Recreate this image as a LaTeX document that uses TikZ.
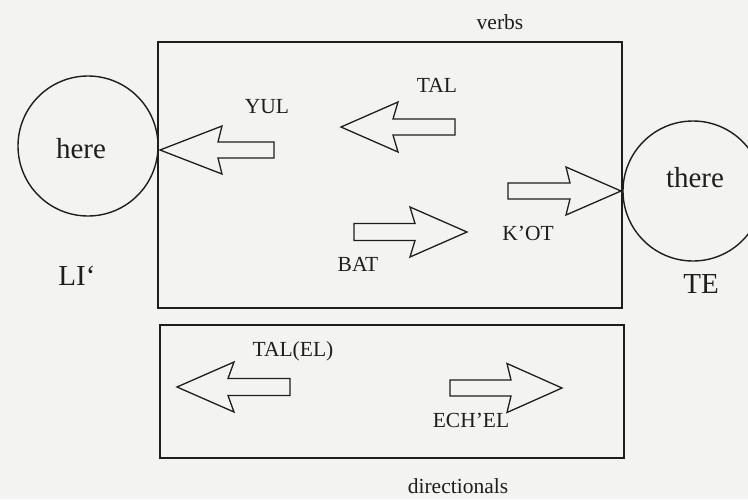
\documentclass[tikz,border=0pt]{standalone}
\usepackage{fontspec}
\setmainfont{Liberation Serif}
\definecolor{paper}{HTML}{F3F3F1}
\definecolor{ink}{HTML}{1E1E1E}
\newcommand\blkarrow[8]{%
  \draw[blockarrow] (#2,#3) -- (#4,{#3-#7}) -- (#5,{#3-#8}) -- (#6,{#3-#8})
     -- (#6,{#3+#8}) -- (#5,{#3+#8}) -- (#4,{#3+#7}) -- cycle;
  \coordinate (#1) at (#2,#3);}
\begin{document}
\begin{tikzpicture}[x=1pt,y=-1pt,
  line width=1.4pt, draw=ink,
  blockarrow/.style={draw=ink, line width=1.3pt, fill=paper, line join=miter},
  frame/.style={draw=ink, line width=1.5pt},
  place/.style={circle, draw=ink, line width=1.4pt, minimum size=140pt, inner sep=0pt},
  lbl/.style={font=\fontsize{21.5}{24}\selectfont, text=ink, anchor=base, inner sep=0pt},
  big/.style={font=\fontsize{29}{32}\selectfont, text=ink, anchor=base, inner sep=0pt}]
\useasboundingbox (0,0) rectangle (748,499);
\fill[paper] (0,0) rectangle (748,499);
\clip (0,0) rectangle (748,499);
% boxes
\draw[frame] (158,42) rectangle (622,308);
\draw[frame] (160,325) rectangle (624,458);
\node[lbl] (verbs) at (500,29) {verbs};
\node[lbl] (dirs) at (458,493) {directionals};
% places
\node[place] (here) at (88,146) {};
\node[place] (there) at (693,191) {};
\node[big] (heret) at (81,158) {here};
\node[big] (theret) at (695,187) {there};
\node[big] (li) at (77,285) {LI‘};
\node[big] (te) at (701,293) {TE};
% verb arrows
\blkarrow{yul}{160}{150}{222}{218}{274}{24}{8}
\blkarrow{tal}{341}{127}{398}{393}{455}{25}{8}
\blkarrow{kot}{621}{191}{566}{570}{508}{24}{8}
\blkarrow{bat}{467}{232}{410}{415}{354}{25}{8.5}
\node[lbl] (yult) at (267,113) {YUL};
\node[lbl] (talt) at (437,92) {TAL};
\node[lbl] (kott) at (528,240) {K’OT};
\node[lbl] (batt) at (358,271) {BAT};
% directional arrows
\blkarrow{talel}{177}{387}{234}{228}{290}{25}{8.5}
\blkarrow{echel}{562}{388}{507}{511}{450}{24.5}{8}
\node[lbl] (talelt) at (293,356) {TAL(EL)};
\node[lbl] (echelt) at (471,427) {ECH’EL};
\end{tikzpicture}
\end{document}
